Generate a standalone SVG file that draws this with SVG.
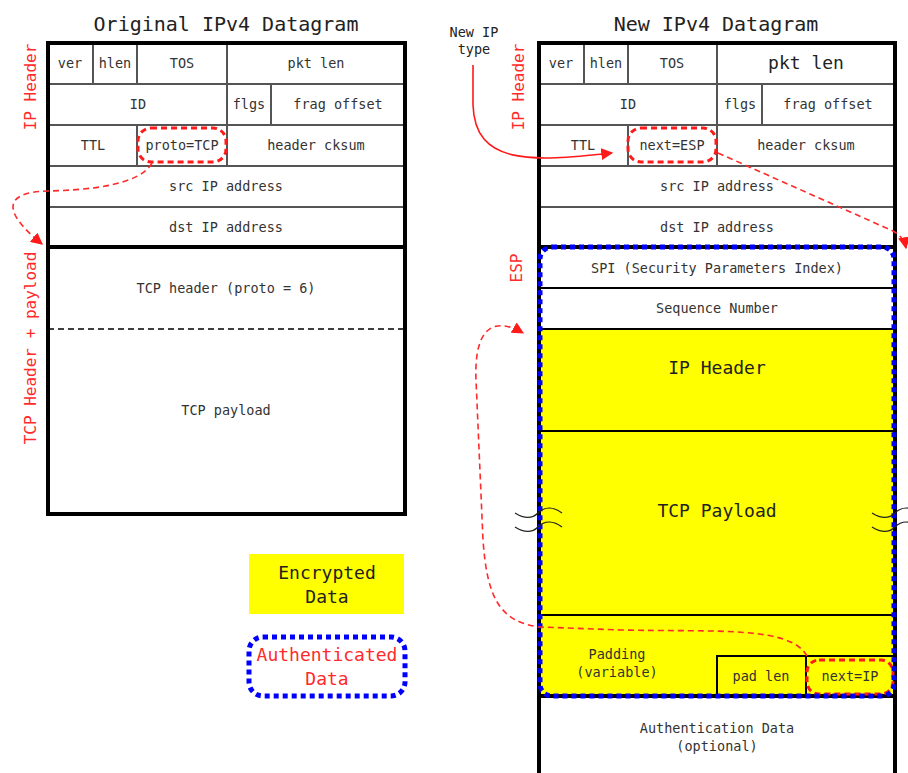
<svg xmlns="http://www.w3.org/2000/svg" width="908" height="773" viewBox="0 0 908 773">
<defs>
<style>
text{font-family:"DejaVu Sans Mono","Liberation Mono",monospace;text-anchor:middle;}
.t{font-size:13.5px;fill:#333;}
.tl{font-size:18px;fill:#222;}
.title{font-size:20px;fill:#222;}
.red{fill:#ff2a2a;font-size:16px;}
.grid{stroke:#555;stroke-width:2;fill:none;}
.blk{stroke:#000;stroke-width:2;fill:none;}
.thick{stroke:#000;stroke-width:4;fill:none;}
.oval{stroke:#ff1a1a;stroke-width:3;stroke-dasharray:6 4;fill:none;}
.blue{stroke:#0000ff;stroke-width:5;stroke-dasharray:5 4;fill:none;}
.conn{stroke:#ff2a2a;stroke-width:1.6;stroke-dasharray:6 4;fill:none;}
.sq{stroke:#222;stroke-width:1.3;fill:none;}
</style>
<marker id="ah" viewBox="0 0 10 10" refX="9" refY="5" markerWidth="7" markerHeight="7" orient="auto" markerUnits="userSpaceOnUse">
<path d="M0,0 L10,5 L0,10 z" fill="#ff1a1a"/>
</marker>
<marker id="ah2" viewBox="0 0 10 10" refX="9" refY="5" markerWidth="12" markerHeight="12" orient="auto" markerUnits="userSpaceOnUse">
<path d="M0,0 L10,5 L0,10 z" fill="#ff1a1a"/>
</marker>
</defs>
<rect width="908" height="773" fill="#fff"/>

<text class="title" x="226" y="31">Original IPv4 Datagram</text>
<text class="title" x="716" y="31">New IPv4 Datagram</text>

<!-- Original datagram -->
<g id="orig">
<line class="grid" x1="48" y1="84" x2="405" y2="84"/>
<line class="grid" x1="48" y1="125" x2="405" y2="125"/>
<line class="grid" x1="48" y1="166" x2="405" y2="166"/>
<line class="grid" x1="48" y1="207" x2="405" y2="207"/>
<line class="grid" x1="93" y1="43" x2="93" y2="84"/>
<line class="grid" x1="137" y1="43" x2="137" y2="84"/>
<line class="grid" x1="227" y1="43" x2="227" y2="84"/>
<line class="grid" x1="227" y1="84" x2="227" y2="125"/>
<line class="grid" x1="271" y1="84" x2="271" y2="125"/>
<line class="grid" x1="137" y1="125" x2="137" y2="166"/>
<line class="grid" x1="227" y1="125" x2="227" y2="166"/>
<line class="thick" x1="48" y1="247" x2="405" y2="247"/>
<line x1="48" y1="329" x2="405" y2="329" stroke="#000" stroke-width="1.5" stroke-dasharray="6 4"/>
<rect class="thick" x="48" y="43" width="357" height="471"/>
</g>
<g id="o-ver"><text class="t" x="70" y="68">ver</text></g>
<g id="o-hlen"><text class="t" x="115" y="68">hlen</text></g>
<g id="o-tos"><text class="t" x="182" y="68">TOS</text></g>
<g id="o-pktlen"><text class="t" x="316" y="68">pkt len</text></g>
<g id="o-id"><text class="t" x="138" y="109">ID</text></g>
<g id="o-flgs"><text class="t" x="249" y="109">flgs</text></g>
<g id="o-frag"><text class="t" x="338" y="109">frag offset</text></g>
<g id="o-ttl"><text class="t" x="93" y="150">TTL</text></g>
<g id="o-proto"><text class="t" x="182" y="150">proto=TCP</text><rect class="oval" x="138" y="128" width="88" height="34" rx="13"/></g>
<g id="o-cksum"><text class="t" x="316" y="150">header cksum</text></g>
<g id="o-src"><text class="t" x="226" y="191">src IP address</text></g>
<g id="o-dst"><text class="t" x="226" y="232">dst IP address</text></g>
<g id="o-tcph"><text class="t" x="226" y="293">TCP header (proto = 6)</text></g>
<g id="o-tcpp"><text class="t" x="226" y="415">TCP payload</text></g>
<g id="o-lbl-ip"><text class="red" transform="translate(36,87) rotate(-90)">IP Header</text></g>
<g id="o-lbl-tcp"><text class="red" transform="translate(36,348) rotate(-90)">TCP Header + payload</text></g>

<!-- New datagram -->
<g id="new">
<rect x="539" y="329" width="356" height="367" fill="#ffff00"/>
<line class="grid" x1="539" y1="84" x2="895" y2="84"/>
<line class="grid" x1="539" y1="125" x2="895" y2="125"/>
<line class="grid" x1="539" y1="166" x2="895" y2="166"/>
<line class="grid" x1="539" y1="207" x2="895" y2="207"/>
<line class="grid" x1="584" y1="43" x2="584" y2="84"/>
<line class="grid" x1="628" y1="43" x2="628" y2="84"/>
<line class="grid" x1="717" y1="43" x2="717" y2="84"/>
<line class="grid" x1="717" y1="84" x2="717" y2="125"/>
<line class="grid" x1="762" y1="84" x2="762" y2="125"/>
<line class="grid" x1="628" y1="125" x2="628" y2="166"/>
<line class="grid" x1="717" y1="125" x2="717" y2="166"/>
<line class="thick" x1="539" y1="247" x2="895" y2="247"/>
<line class="blk" x1="539" y1="288" x2="895" y2="288"/>
<line class="blk" x1="539" y1="329" x2="895" y2="329"/>
<line class="blk" x1="539" y1="431" x2="895" y2="431"/>
<line class="blk" x1="539" y1="615" x2="895" y2="615"/>
<line class="thick" x1="539" y1="696" x2="895" y2="696"/>
<path class="blk" d="M717,696 V656 H895 M806,656 V696"/>
<path class="thick" d="M539,773 V43 H895 V773"/>
</g>
<g id="n-ver"><text class="t" x="561" y="68">ver</text></g>
<g id="n-hlen"><text class="t" x="606" y="68">hlen</text></g>
<g id="n-tos"><text class="t" x="672" y="68">TOS</text></g>
<g id="n-pktlen"><text class="tl" x="806" y="69">pkt len</text></g>
<g id="n-id"><text class="t" x="628" y="109">ID</text></g>
<g id="n-flgs"><text class="t" x="740" y="109">flgs</text></g>
<g id="n-frag"><text class="t" x="828" y="109">frag offset</text></g>
<g id="n-ttl"><text class="t" x="583" y="150">TTL</text></g>
<g id="n-next"><text class="t" x="672" y="150">next=ESP</text><rect class="oval" x="628" y="128" width="88" height="34" rx="13"/></g>
<g id="n-cksum"><text class="t" x="806" y="150">header cksum</text></g>
<g id="n-src"><text class="t" x="717" y="191">src IP address</text></g>
<g id="n-dst"><text class="t" x="717" y="232">dst IP address</text></g>
<g id="n-spi"><text class="t" x="717" y="273">SPI (Security Parameters Index)</text></g>
<g id="n-seq"><text class="t" x="717" y="313">Sequence Number</text></g>
<g id="n-iph"><text class="tl" x="717" y="374">IP Header</text></g>
<g id="n-tcpp"><text class="tl" x="717" y="517">TCP Payload</text></g>
<g id="n-pad"><text class="t" x="617" y="659">Padding</text><text class="t" x="617" y="677">(variable)</text></g>
<g id="n-padlen"><text class="t" x="761" y="681">pad len</text></g>
<g id="n-nextip"><text class="t" x="850" y="681">next=IP</text><rect class="oval" x="807" y="660" width="86" height="34" rx="12"/></g>
<g id="n-auth"><text class="t" x="717" y="733">Authentication Data</text><text class="t" x="717" y="751">(optional)</text></g>
<g id="n-authbox"><rect class="blue" x="540" y="247" width="354" height="449" rx="12"/></g>
<g id="n-lbl-ip"><text class="red" transform="translate(524,87) rotate(-90)">IP Header</text></g>
<g id="n-lbl-esp"><text class="red" transform="translate(522,268) rotate(-90)">ESP</text></g>
<g id="n-newtype"><text class="t" x="474" y="37" style="fill:#222">New IP</text><text class="t" x="474" y="54" style="fill:#222">type</text></g>

<!-- squiggles -->
<g id="squiggles">
<path class="sq" d="M515,513 c8,5 16,7 23,0 c7,-7 16,-6 24,0"/>
<path class="sq" d="M515,527 c8,5 16,7 23,0 c7,-7 16,-6 24,0"/>
<path class="sq" d="M872,513 c8,5 16,7 23,0 c7,-7 16,-6 24,0"/>
<path class="sq" d="M872,527 c8,5 16,7 23,0 c7,-7 16,-6 24,0"/>
</g>

<!-- legend -->
<g id="legend-enc">
<rect x="249" y="554" width="155" height="60" fill="#ffff00"/>
<text class="tl" x="327" y="579">Encrypted</text>
<text class="tl" x="327" y="603">Data</text>
</g>
<g id="legend-auth">
<rect class="blue" x="249" y="637" width="156" height="59" rx="14"/>
<text class="tl" x="327" y="661" style="fill:#ff2a2a">Authenticated</text>
<text class="tl" x="327" y="685" style="fill:#ff2a2a">Data</text>
</g>

<!-- connectors -->
<g id="connectors">
<path class="conn" d="M152,163 C140,185 90,190 48,191 C5,192 0,210 42,244" marker-end="url(#ah2)"/>
<path d="M473,65 L473,105 C475,165 530,162 612,153" stroke="#ff1a1a" stroke-width="1.6" fill="none" marker-end="url(#ah2)"/>
<path class="conn" d="M718,153 L893,231 Q904,237 906,248" marker-end="url(#ah2)"/>
<path class="conn" d="M807,656 C790,626 720,632 620,630 L540,627 C498,622 487,595 483,540 L476,380 C474,330 492,315 523,333" marker-end="url(#ah2)"/>
</g>
</svg>
